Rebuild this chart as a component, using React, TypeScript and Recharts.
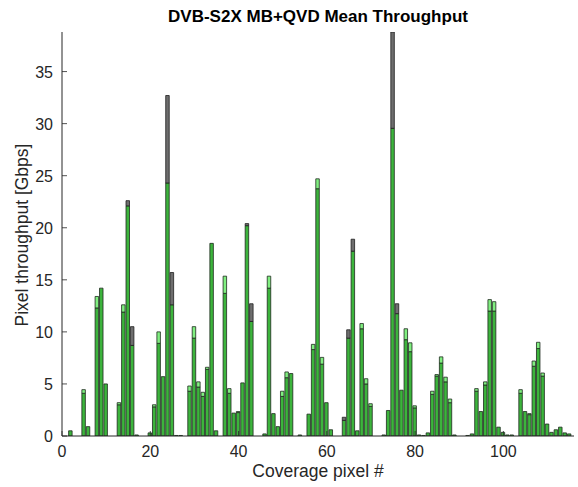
import { BarChart, Bar, XAxis, YAxis } from 'recharts';

// values, one entry per coverage pixel (1..115)
const darkGreen = [
  0, 0.5, 0, 0, 4.1, 0.9, 0, 12.3, 14.2, 5.0,
  0, 0, 3.0, 11.9, 22.1, 8.7, 0.1, 0, 0, 0.3,
  2.8, 8.9, 5.7, 24.3, 12.6, 0.05, 0.05, 0, 4.3, 9.4,
  4.7, 3.8, 6.4, 18.5, 0.5, 0, 13.7, 4.1, 2.2, 2.25,
  5.1, 20.2, 11.0, 0, 0, 0.2, 14.2, 2.15, 0.9, 3.8,
  5.6, 6.0, 0, 0.1, 0, 2.1, 8.3, 23.75, 6.9, 3.2,
  0.6, 0, 0, 1.5, 9.4, 17.75, 0.5, 10.3, 5.0, 2.85,
  0, 0, 0.1, 2.45, 29.55, 11.75, 4.4, 9.25, 8.1, 2.7,
  0.1, 0.05, 0.3, 4.0, 5.75, 7.0, 5.2, 3.2, 0.1, 0,
  0, 0.05, 0.2, 4.3, 2.35, 4.9, 12.0, 12.0, 0.85, 0.35,
  0.1, 0.1, 0, 4.1, 2.35, 2.05, 6.7, 8.4, 5.75, 1.15,
  0.35, 0.6, 0.85, 0.3, 0.2,
];

// top of the light green part (0 = none)
const lightGreen = [
  0, 0, 0, 0, 4.45, 0, 0, 13.4, 0, 0,
  0, 0, 3.2, 12.6, 0, 0, 0, 0, 0, 0,
  3.0, 10.0, 0, 0, 0, 0, 0, 0, 4.8, 10.5,
  5.2, 4.2, 6.6, 0, 0, 0, 15.35, 4.55, 0, 2.35,
  0, 0, 0, 0, 0, 0, 15.35, 0, 0, 4.3,
  6.15, 0, 0, 0, 0, 0, 8.8, 24.7, 7.55, 0,
  0, 0, 0, 0, 0, 0, 0, 10.8, 5.5, 3.1,
  0, 0, 0, 0, 0, 0, 0, 10.3, 8.95, 2.9,
  0, 0, 0, 4.3, 5.9, 7.6, 5.65, 3.55, 0, 0,
  0, 0, 0, 4.55, 0, 5.2, 13.1, 12.9, 0, 0,
  0, 0, 0, 4.45, 0, 2.15, 7.2, 9.0, 6.05, 0,
  0, 0, 0, 0, 0,
];

// top of the gray part (0 = none)
const grayTop = [
  0, 0, 0, 0, 0, 0, 0, 0, 0, 0,
  0, 0, 0, 0, 22.6, 10.5, 0, 0, 0, 0,
  0, 0, 0, 32.7, 15.7, 0, 0, 0, 0, 0,
  0, 0, 0, 0, 0, 0, 0, 0, 0, 0,
  0, 20.4, 12.7, 0, 0, 0, 0, 0, 0, 0,
  0, 0, 0, 0, 0, 0, 0, 0, 0, 0,
  0, 0, 0, 1.8, 10.2, 18.9, 0, 0, 0, 0,
  0, 0, 0, 0, 38.8, 12.7, 0, 0, 0, 0,
  0, 0, 0, 0, 0, 0, 0, 0, 0, 0,
  0, 0, 0, 0, 0, 0, 0, 0, 0, 0,
  0, 0, 0, 0, 0, 0, 0, 0, 0, 0,
  0, 0, 0, 0, 0,
];

const xTicks = [0, 20, 40, 60, 80, 100];
const yTicks = [0, 5, 10, 15, 20, 25, 30, 35];

const data = darkGreen.map((g, i) => {
  const light = Math.max(0, lightGreen[i] - g);
  const gray = Math.max(0, grayTop[i] - Math.max(g, lightGreen[i]));
  return { pixel: i + 1, g, light, gray };
});

const FONT = '"Liberation Sans", Arial, Helvetica, sans-serif';
const AXIS = '#262626';

function XTick(props: any) {
  const { x, y, payload } = props;
  return (
    <g>
      <line x1={x} y1={y} x2={x} y2={y - 5} stroke={AXIS} strokeWidth={0.8} />
      <text x={x} y={y + 21} textAnchor="middle" fontSize={16} fill={AXIS} fontFamily={FONT}>
        {payload.value}
      </text>
    </g>
  );
}

function YTick(props: any) {
  const { x, y, payload } = props;
  return (
    <g>
      <line x1={x} y1={y} x2={x + 5} y2={y} stroke={AXIS} strokeWidth={0.8} />
      <text x={x - 9} y={y + 6} textAnchor="end" fontSize={16} fill={AXIS} fontFamily={FONT}>
        {payload.value}
      </text>
    </g>
  );
}

export default function App() {
  return (
    <div style={{ position: 'absolute', left: 0, top: 0, width: 578, height: 487, background: '#fff', fontFamily: FONT }}>
      <div style={{ position: 'absolute', left: 62, width: 512, top: 7, textAlign: 'center', fontSize: 17, fontWeight: 'bold', color: '#000', lineHeight: '20px' }}>
        DVB-S2X MB+QVD Mean Throughput
      </div>
      <div style={{ position: 'absolute', left: 62, width: 512, top: 462, textAlign: 'center', fontSize: 17.5, color: AXIS, lineHeight: '18px' }}>
        Coverage pixel #
      </div>
      <div
        style={{
          position: 'absolute', left: 22, top: 235, width: 260, marginLeft: -130, marginTop: -10,
          height: 20, lineHeight: '20px', textAlign: 'center', fontSize: 17.5, color: AXIS, transform: 'rotate(-90deg)',
        }}
      >
        Pixel throughput [Gbps]
      </div>
      <BarChart
        width={578}
        height={487}
        data={data}
        margin={{ top: 32, right: 4, bottom: 0, left: 0 }}
        barSize={3.5}
        style={{ position: 'absolute', left: 0, top: 0 }}
      >
        <XAxis
          dataKey="pixel"
          type="number"
          domain={[0, 116]}
          ticks={xTicks}
          height={51}
          tickSize={0}
          tickMargin={0}
          tickLine={false}
          stroke={AXIS}
          tick={<XTick />}
          allowDataOverflow
        />
        <YAxis
          type="number"
          domain={[0, 38.8]}
          ticks={yTicks}
          width={62}
          tickSize={0}
          tickMargin={0}
          tickLine={false}
          stroke={AXIS}
          tick={<YTick />}
          allowDataOverflow
        />
        <Bar dataKey="g" stackId="a" fill="#3cb43c" stroke="#1e2a1e" strokeWidth={0.8} isAnimationActive={false} />
        <Bar dataKey="light" stackId="a" fill="#80ef80" stroke="#1e2a1e" strokeWidth={0.8} isAnimationActive={false} />
        <Bar dataKey="gray" stackId="a" fill="#6e6e6e" stroke="#1e1e1e" strokeWidth={0.8} isAnimationActive={false} />
      </BarChart>
    </div>
  );
}
